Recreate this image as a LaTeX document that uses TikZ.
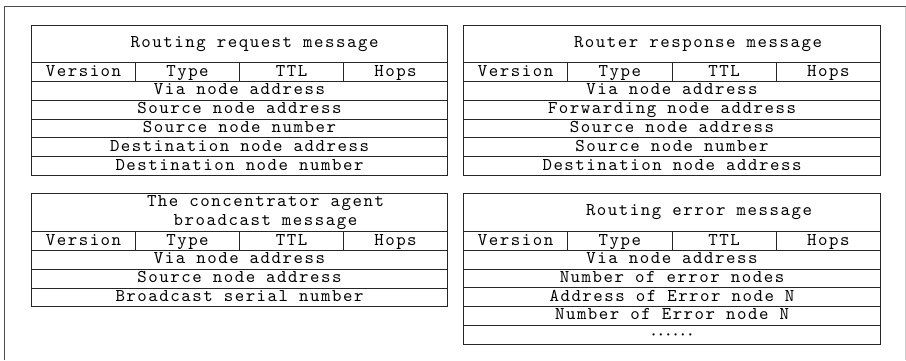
\documentclass[tikz,border=0pt]{standalone}
\usepackage{fontspec}
\newfontfamily\lmmono[LetterSpace=8.5]{lmmono10-regular.otf}
\newcommand\cellfont{\lmmono\fontsize{18}{19}\selectfont}
\tikzset{
  cell/.style={draw=black!85, line width=1pt, inner sep=0pt, anchor=north west,
    font=\cellfont, text height=11pt, text depth=3pt},
  lbl/.style={inner sep=0pt, font=\cellfont, align=center},
}
\newcommand\msghead[6]{% #1 prefix, #2 x, #3 y, #4 width, #5 title height, #6 row height
  \node[cell, minimum width=#4, minimum height=#5] (#1t) at (#2,#3) {};
  \pgfmathsetmacro\colw{#4/4}
  \foreach \i/\t in {0/Version,1/Type,2/TTL,3/Hops} {
    \node[cell, minimum width=\colw, minimum height=#6] (#1h\i) at ({#2+\i*\colw},{#3+#5}) {\t};
  }
}
\begin{document}
\begin{tikzpicture}[x=1pt,y=-1pt]
\useasboundingbox (0,0) rectangle (906,360);
% outer frame (cropped screenshot)
\draw[black!70, line width=1.3pt] (4.5,360) -- (4.5,6.5) -- (906,6.5);
\draw[black!20, line width=1pt] (905,6.5) -- (905,360);

% Table 1
\msghead{a}{31}{25}{416}{37}{19}
\node[lbl] (atl) at ([xshift=15pt]at.center) {Routing request message};
\foreach \i/\t in {1/{Via node address},2/{Source node address},3/{Source node number},4/{Destination node address},5/{Destination node number}} {
  \node[cell, minimum width=416, minimum height=18.8] (ar\i) at (31,{81+(\i-1)*18.8}) {\t};
}

% Table 2
\msghead{b}{463}{25}{417}{37}{19}
\node[lbl] (btl) at ([xshift=26pt]bt.center) {Router response message};
\foreach \i/\t in {1/{Via node address},2/{Forwarding node address},3/{Source node address},4/{Source node number},5/{Destination node address}} {
  \node[cell, minimum width=417, minimum height=18.8] (br\i) at (463,{81+(\i-1)*18.8}) {\t};
}

% Table 3
\msghead{c}{31}{193}{416}{38}{19}
\node[lbl] (ctl) at ([xshift=26pt]ct.center) {The concentrator agent\\broadcast message};
\foreach \i/\t in {1/{Via node address},2/{Source node address},3/{Broadcast serial number}} {
  \node[cell, minimum width=416, minimum height=18.8] (cr\i) at (31,{250+(\i-1)*18.8}) {\t};
}

% Table 4
\msghead{d}{463}{193}{417}{38}{19}
\node[lbl] (dtl) at ([xshift=27pt]dt.center) {Routing error message};
\foreach \i/\t in {1/{Via node address},2/{Number of error nodes},3/{Address of Error node N},4/{Number of Error node N}} {
  \node[cell, minimum width=417, minimum height=18.7] (dr\i) at (463,{250+(\i-1)*18.7}) {\t};
}
\node[cell, minimum width=417, minimum height=18.7, font=\fontsize{15}{16}\selectfont\boldmath, text height=, text depth=] (dr5) at (463,{250+4*18.7}) {$\cdots\cdots$};
\end{tikzpicture}
\end{document}
